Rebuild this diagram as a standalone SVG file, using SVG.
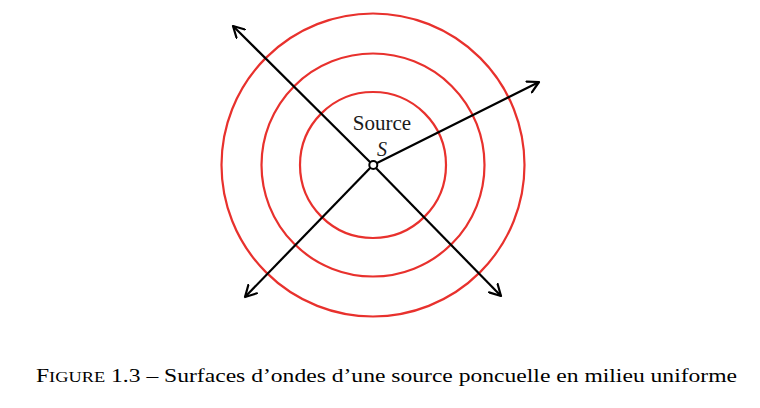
<svg xmlns="http://www.w3.org/2000/svg" width="760" height="408" viewBox="0 0 760 408">
<defs>
<marker id="arr" viewBox="0 0 14 14" refX="12" refY="7" markerWidth="14" markerHeight="14" markerUnits="userSpaceOnUse" orient="auto">
<path d="M1,1 L12,7 L1,13" fill="none" stroke="#000" stroke-width="2.2" stroke-linecap="round" stroke-linejoin="round"/>
</marker>
<style>
.wave{fill:none;stroke:#e8312d;stroke-width:2.2}
.ray{stroke:#000;stroke-width:2.2;fill:none;marker-end:url(#arr)}
.lbl{font-family:"Liberation Serif","DejaVu Serif",serif;fill:#1a1a1a}
.cap{font-family:"Liberation Serif",serif;font-size:18px;fill:#000}
</style>
</defs>
<rect width="760" height="408" fill="#fff"/>
<g id="waves">
<circle class="wave" cx="373" cy="165" r="73"/>
<circle class="wave" cx="373" cy="165" r="111.5"/>
<circle class="wave" cx="373" cy="165" r="151.5"/>
</g>
<g id="connectors">
<line class="ray" x1="373" y1="165" x2="233" y2="26"/>
<line class="ray" x1="373" y1="165" x2="539" y2="82"/>
<line class="ray" x1="373" y1="165" x2="245" y2="297"/>
<line class="ray" x1="373" y1="165" x2="501" y2="296"/>
</g>
<g id="source">
<circle cx="373.3" cy="165" r="4" fill="#fff" stroke="#000" stroke-width="2"/>
<text class="lbl" x="382" y="129.5" font-size="21" text-anchor="middle">Source</text>
<text class="lbl" x="382" y="156" font-size="20" font-style="italic" text-anchor="middle">S</text>
</g>
<g id="caption">
<text class="cap" x="36" y="382" textLength="701" lengthAdjust="spacingAndGlyphs">F<tspan font-size="14">IGURE</tspan> 1.3 – Surfaces d’ondes d’une source poncuelle en milieu uniforme</text>
</g>
</svg>
